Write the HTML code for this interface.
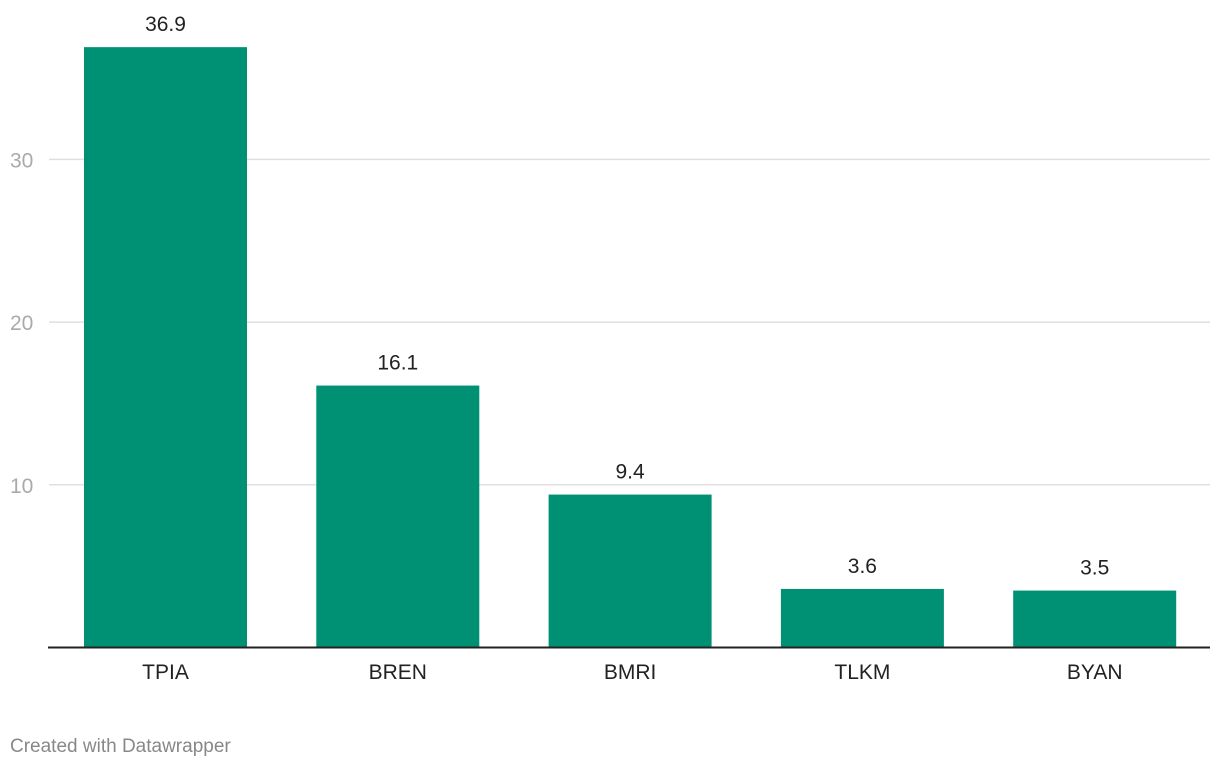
<!DOCTYPE html>
<html><head><meta charset="utf-8"><style>
body{margin:0;background:#fff;font-family:"Liberation Sans",Roboto,sans-serif;}
svg{display:block}
</style></head><body>
<svg id="chart" width="1220" height="768">
<g id="grid"></g>
<g id="bars"></g>
<line x1="48" x2="1210" y1="647.5" y2="647.5" stroke="#222" stroke-width="2"/>
<text x="10" y="752" font-size="19" fill="#888">Created with Datawrapper</text>
</svg>
<script>
const categories=["TPIA","BREN","BMRI","TLKM","BYAN"];
const values=[36.9,16.1,9.4,3.6,3.5];
const valueLabels=["36.9","16.1","9.4","3.6","3.5"];
const ticks=[10,20,30];
const tickLabels=["10","20","30"];
const NS="http://www.w3.org/2000/svg";
const y0=647.5,pxPerUnit=16.27;
function y(v){return y0-v*pxPerUnit;}
function xBand(i){return 84+i*232.3;}
const bw=163;
const grid=document.getElementById('grid'),bars=document.getElementById('bars');
ticks.forEach((t,i)=>{
 const l=document.createElementNS(NS,'line');
 
 
 l.setAttribute('x1',49);l.setAttribute('x2',1210);l.setAttribute('y1',y(t));l.setAttribute('y2',y(t));
 l.setAttribute('stroke','#e0e0e0');l.setAttribute('stroke-width','1.5');grid.appendChild(l);
 const tx=document.createElementNS(NS,'text');
 
 
 tx.setAttribute('x',10);tx.setAttribute('y',y(t)+8);tx.setAttribute('font-size','21');tx.setAttribute('fill','#aaa');
 tx.textContent=tickLabels[i];grid.appendChild(tx);
});
categories.forEach((c,i)=>{
 const r=document.createElementNS(NS,'rect');
 
 
 r.setAttribute('x',xBand(i));r.setAttribute('width',bw);r.setAttribute('y',y(values[i]));r.setAttribute('height',y0-y(values[i]));
 r.setAttribute('fill','#009175');bars.appendChild(r);
 const v=document.createElementNS(NS,'text');
 
 
 v.setAttribute('x',xBand(i)+bw/2);v.setAttribute('y',y(values[i])-16);v.setAttribute('text-anchor','middle');
 v.setAttribute('font-size','21');v.setAttribute('fill','#222');v.textContent=valueLabels[i];bars.appendChild(v);
 const cl=document.createElementNS(NS,'text');
 
 
 cl.setAttribute('x',xBand(i)+bw/2);cl.setAttribute('y',679);cl.setAttribute('text-anchor','middle');
 cl.setAttribute('font-size','21');cl.setAttribute('fill','#222');cl.textContent=c;bars.appendChild(cl);
});
</script>
</body></html>
